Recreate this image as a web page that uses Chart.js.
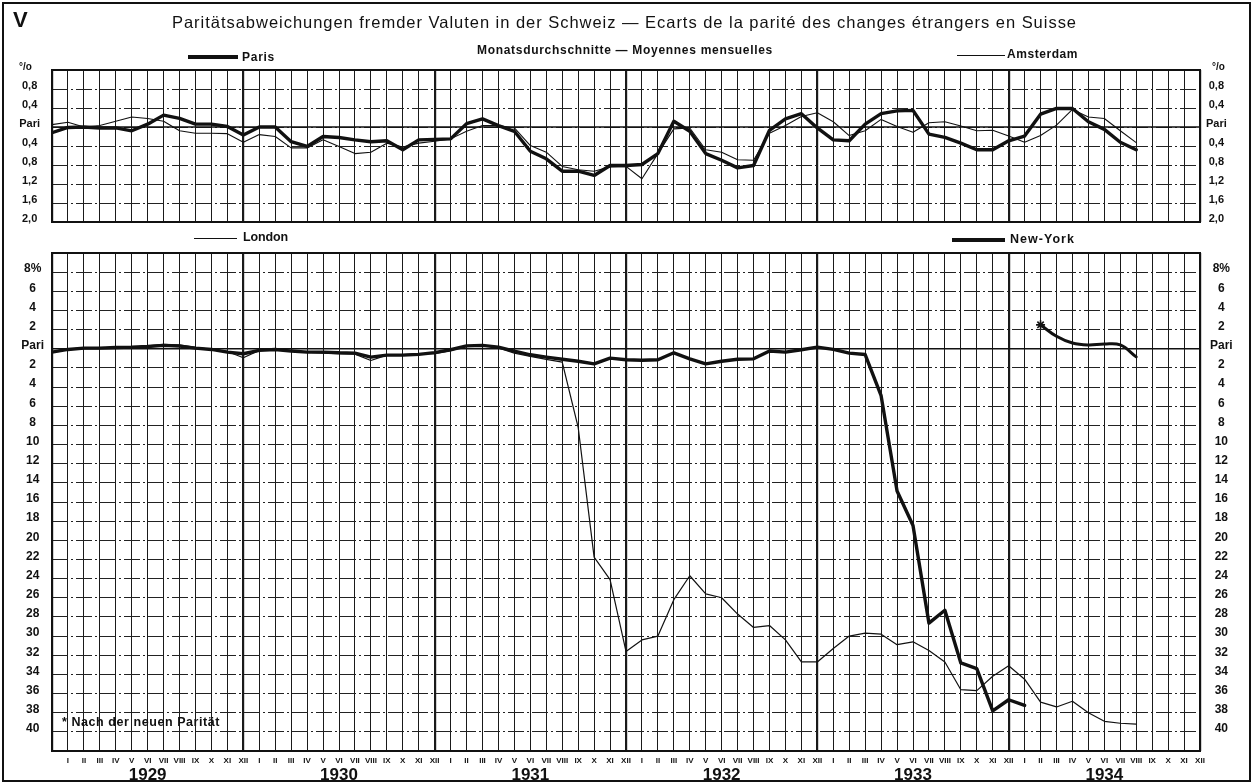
<!DOCTYPE html>
<html lang="de">
<head>
<meta charset="utf-8">
<title>Paritätsabweichungen fremder Valuten in der Schweiz</title>
<script src="https://cdn.jsdelivr.net/npm/chart.js@4.4.1/dist/chart.umd.min.js"></script>
<style>
html,body{margin:0;padding:0;background:#fff;}
#page{position:relative;width:1256px;height:784px;overflow:hidden;background:#fff;font-family:"Liberation Sans",Arial,sans-serif;color:#111;}
.t{position:absolute;white-space:nowrap;line-height:1;}
.b{font-weight:bold;}
.ln{position:absolute;background:#111;}
#frame{position:absolute;left:2px;top:2px;width:1245px;height:776px;border:2px solid #111;}
#c1{position:absolute;left:0;top:60px;}
#c2{position:absolute;left:0;top:245px;}
</style>
</head>
<body>
<div id="page">
<canvas id="c1" width="1256" height="172"></canvas>
<canvas id="c2" width="1256" height="539"></canvas>
<div id="frame"></div>
<div class="t b" style="left:13px;top:9px;font-size:22px;">V</div>
<div class="t fit" data-w="905" style="left:172px;top:14px;font-size:16.5px;">Paritätsabweichungen fremder Valuten in der Schweiz — Ecarts de la parité des changes étrangers en Suisse</div>
<div class="t b fit" data-w="296" style="left:477px;top:44px;font-size:12px;">Monatsdurchschnitte — Moyennes mensuelles</div>
<div class="ln" style="left:188px;top:55px;width:50px;height:3.5px;"></div>
<div class="t b fit" data-w="33" style="left:242px;top:51px;font-size:12px;">Paris</div>
<div class="ln" style="left:957px;top:54.5px;width:48px;height:1.2px;"></div>
<div class="t b fit" data-w="71" style="left:1007px;top:48px;font-size:12px;">Amsterdam</div>
<div class="ln" style="left:194px;top:237.5px;width:43px;height:1.2px;"></div>
<div class="t b fit" data-w="45" style="left:243px;top:231px;font-size:12.5px;">London</div>
<div class="ln" style="left:952px;top:238px;width:53px;height:3.5px;"></div>
<div class="t b fit" data-w="65" style="left:1010px;top:233px;font-size:12.5px;">New-York</div>
<div class="t b" style="left:19px;top:62px;font-size:10px;">°/o</div>
<div class="t b" style="left:1212px;top:62px;font-size:10px;">°/o</div>
<div class="t b fit" data-w="158" style="left:62px;top:716px;font-size:12.5px;">* Nach der neuen Parität</div>
</div>
<script>
// ---- axis labels ----
const months = ['I','II','III','IV','V','VI','VII','VIII','IX','X','XI','XII'];
const years = ['1929','1930','1931','1932','1933','1934'];
const topTickValues = [-2.0,-1.6,-1.2,-0.8,-0.4,0,0.4,0.8,1.2];
const topTickLabels = ['2,0','1,6','1,2','0,8','0,4','Pari','0,4','0,8',''];
const lowTickValues = [-42,-40,-38,-36,-34,-32,-30,-28,-26,-24,-22,-20,-18,-16,-14,-12,-10,-8,-6,-4,-2,0,2,4,6,8,10];
const lowTickLabels = ['','40','38','36','34','32','30','28','26','24','22','20','18','16','14','12','10','8','6','4','2','Pari','2','4','6','8%',''];

// ---- series (monthly deviation from parity, %; index 0 = end of 1928) ----
const paris = [-0.12,-0.01,0.00,-0.02,-0.02,-0.08,0.06,0.25,0.18,0.06,0.06,0.01,
  -0.17,0.00,0.00,-0.31,-0.41,-0.20,-0.22,-0.27,-0.31,-0.29,-0.48,-0.27,
  -0.26,-0.25,0.07,0.17,0.03,-0.09,-0.51,-0.67,-0.93,-0.93,-1.02,-0.81,
  -0.81,-0.79,-0.56,0.12,-0.09,-0.56,-0.70,-0.86,-0.81,-0.07,0.17,0.28,
  -0.02,-0.27,-0.29,0.06,0.28,0.34,0.35,-0.15,-0.22,-0.34,-0.48,-0.48,
  -0.29,-0.19,0.27,0.39,0.39,0.11,-0.05,-0.32,-0.48];
const amsterdam = [0.05,0.10,0.00,0.03,0.12,0.21,0.18,0.12,-0.08,-0.13,-0.13,-0.14,
  -0.32,-0.16,-0.20,-0.44,-0.44,-0.27,-0.41,-0.56,-0.53,-0.34,-0.42,-0.34,
  -0.30,-0.25,-0.09,0.03,0.03,-0.02,-0.39,-0.53,-0.83,-0.90,-0.93,-0.84,
  -0.83,-1.09,-0.56,-0.04,-0.02,-0.48,-0.53,-0.69,-0.70,-0.13,0.03,0.22,
  0.30,0.11,-0.18,-0.08,0.16,0.01,-0.11,0.09,0.11,0.02,-0.08,-0.07,
  -0.19,-0.32,-0.18,0.04,0.37,0.21,0.18,-0.08,-0.33];
const london = [-0.30,0.00,0.07,0.07,0.14,0.17,0.30,0.45,0.42,0.14,-0.07,-0.28,
  -0.94,-0.17,-0.07,-0.17,-0.35,-0.45,-0.50,-0.56,-1.22,-0.66,-0.60,-0.50,
  -0.50,-0.20,0.30,0.35,0.10,-0.45,-0.80,-1.10,-1.40,-8.2,-21.75,-24.1,
  -31.6,-30.4,-30.0,-26.2,-23.7,-25.6,-26.0,-27.7,-29.1,-28.9,-30.4,-32.7,
  -32.7,-31.3,-30.0,-29.7,-29.8,-30.9,-30.6,-31.5,-32.7,-35.6,-35.7,-34.2,
  -33.1,-34.5,-36.9,-37.4,-36.8,-38.0,-38.9,-39.1,-39.2];
const newYork = [-0.35,-0.07,0.07,0.07,0.14,0.17,0.24,0.35,0.28,0.07,-0.07,-0.35,
  -0.52,-0.17,-0.07,-0.24,-0.35,-0.35,-0.42,-0.45,-0.87,-0.66,-0.66,-0.59,
  -0.40,-0.10,0.30,0.35,0.17,-0.24,-0.63,-0.87,-1.10,-1.30,-1.57,-0.98,
  -1.15,-1.20,-1.15,-0.42,-1.05,-1.57,-1.30,-1.10,-1.05,-0.24,-0.35,-0.10,
  0.17,-0.07,-0.45,-0.60,-4.9,-14.86,-18.45,-28.65,-27.3,-32.8,-33.4,-37.8,
  -36.65,-37.24];
const newYorkNewStart = 62;
const newYorkNew = [2.5,1.3,0.6,0.4,0.5,0.4,-0.85];

// ---- fit text widths ----
document.querySelectorAll('.fit').forEach(el => {
  const target = +el.dataset.w;
  const w = el.getBoundingClientRect().width;
  const n = el.textContent.length;
  el.style.letterSpacing = ((target - w) / n) + 'px';
});

const FONT = '"Liberation Sans", Arial, sans-serif';
const pts = (arr, start = 0) => arr.map((v, i) => ({x: start + i, y: v}));

const framePlugin = {
  id: 'frame',
  beforeDatasetsDraw(chart) {
    const {ctx, chartArea: a, scales} = chart;
    const yp = scales.y.getPixelForValue(0);
    ctx.save();
    ctx.strokeStyle = '#111';
    ctx.lineWidth = 1.6;
    ctx.beginPath(); ctx.moveTo(a.left, yp); ctx.lineTo(a.right, yp); ctx.stroke();
    ctx.lineWidth = 2;
    ctx.strokeRect(a.left, a.top, a.right - a.left, a.bottom - a.top);
    ctx.restore();
  }
};

function xAxis(showLabels) {
  return {
    type: 'linear', position: 'bottom', min: 0, max: 72,
    afterBuildTicks(s) { s.ticks = Array.from({length: 73}, (_, i) => ({value: i})); },
    ticks: {
      display: showLabels, autoSkip: false, maxRotation: 0, padding: 5, color: '#111',
      font: {family: FONT, size: 8, weight: 'bold'},
      callback(v) { const r = Math.round(v); return r >= 1 ? months[(r - 1) % 12] : ''; }
    },
    grid: {
      color: '#1a1a1a', drawTicks: false,
      lineWidth: c => (c.tick && c.tick.value % 12 === 0) ? 2.2 : 1
    },
    border: {display: false},
    afterFit(s) { s.height = showLabels ? 14 : 0; s.paddingLeft = 0; s.paddingRight = 0; }
  };
}

function yAxis(pos, vals, labels, fontSize, pad, grid) {
  return {
    type: 'linear', position: pos, min: vals[0], max: vals[vals.length - 1],
    afterBuildTicks(s) { s.ticks = vals.map(v => ({value: v})); },
    ticks: {
      autoSkip: false, padding: pad, crossAlign: 'center', labelOffset: -3, color: '#111',
      font: {family: FONT, size: fontSize, weight: 'bold'},
      callback(v, i) { return labels[i]; }
    },
    grid: {display: grid, drawOnChartArea: grid, drawTicks: false, color: '#222', lineWidth: 1},
    border: {display: false, dash: [16, 3, 2, 3]},
    afterFit(s) { s.width = pos === 'left' ? 52 : 56; s.paddingTop = 0; s.paddingBottom = 0; }
  };
}

const common = {
  responsive: false, animation: false, devicePixelRatio: 1,
  plugins: {legend: {display: false}, tooltip: {enabled: false}},
  elements: {line: {borderJoinStyle: 'round', borderCapStyle: 'round'}}
};

new Chart(document.getElementById('c1'), {
  type: 'line',
  data: {datasets: [
    {label: 'Paris', data: pts(paris), borderColor: '#111', borderWidth: 3.4, pointRadius: 0, tension: 0},
    {label: 'Amsterdam', data: pts(amsterdam), borderColor: '#111', borderWidth: 1.1, pointRadius: 0, tension: 0}
  ]},
  options: Object.assign({}, common, {
    layout: {padding: {top: 10, bottom: 10, left: 0, right: 0}},
    scales: {
      x: xAxis(false),
      y: yAxis('left', topTickValues, topTickLabels, 11, 12, true),
      y2: yAxis('right', topTickValues, topTickLabels, 11, 6, false)
    }
  }),
  plugins: [framePlugin]
});

new Chart(document.getElementById('c2'), {
  type: 'line',
  data: {datasets: [
    {label: 'London', data: pts(london), borderColor: '#111', borderWidth: 1.2, pointRadius: 0, tension: 0},
    {label: 'New-York', data: pts(newYork), borderColor: '#111', borderWidth: 3.4, pointRadius: 0, tension: 0},
    {label: 'New-York *', data: pts(newYorkNew, newYorkNewStart), borderColor: '#111', borderWidth: 3, tension: 0.4,
      pointStyle: 'star', pointRadius: c => c.dataIndex === 0 ? 4.5 : 0, pointBorderColor: '#111', pointBorderWidth: 1.6}
  ]},
  options: Object.assign({}, common, {
    layout: {padding: {top: 8, bottom: 0, left: 0, right: 0}},
    scales: {
      x: xAxis(true),
      x2: {
        type: 'linear', position: 'bottom', min: 0, max: 72,
        afterBuildTicks(s) { s.ticks = years.map((_, i) => ({value: 6 + 12 * i})); },
        ticks: {autoSkip: false, maxRotation: 0, padding: 0, color: '#111',
          font: {family: FONT, size: 17, weight: 'bold'},
          callback(v, i) { return years[i]; }},
        grid: {display: false, drawTicks: false}, border: {display: false},
        afterFit(s) { s.height = 19; s.paddingLeft = 0; s.paddingRight = 0; }
      },
      y: yAxis('left', lowTickValues, lowTickLabels, 12, 8, true),
      y2: yAxis('right', lowTickValues, lowTickLabels, 12, 10, false)
    }
  }),
  plugins: [framePlugin]
});
</script>
</body>
</html>
